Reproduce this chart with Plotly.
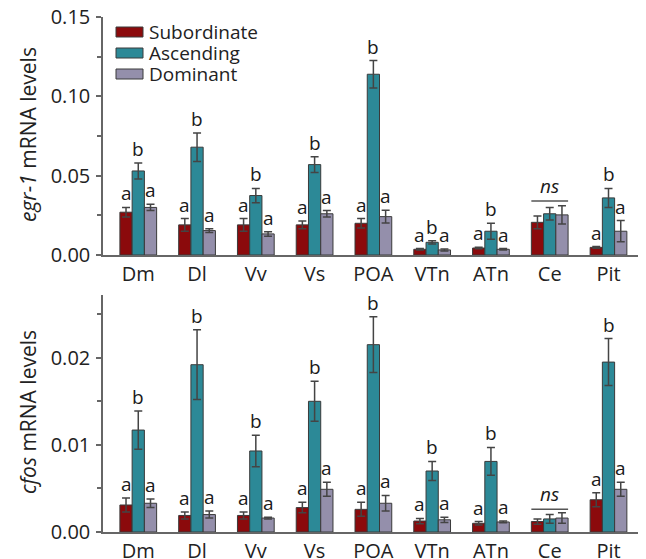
import plotly.graph_objects as go

# ---------------- data ----------------
categories = ["Dm", "Dl", "Vv", "Vs", "POA", "VTn", "ATn", "Ce", "Pit"]
groups = ["Subordinate", "Ascending", "Dominant"]

egr1_sub = [0.027, 0.019, 0.019, 0.019, 0.020, 0.0036, 0.0044, 0.0206, 0.0048]
egr1_sub_err = [0.003, 0.004, 0.004, 0.0025, 0.003, 0.0005, 0.0005, 0.004, 0.0005]
egr1_asc = [0.053, 0.068, 0.0375, 0.057, 0.114, 0.008, 0.015, 0.026, 0.036]
egr1_asc_err = [0.005, 0.009, 0.0045, 0.005, 0.0086, 0.001, 0.005, 0.004, 0.006]
egr1_dom = [0.030, 0.0154, 0.0133, 0.026, 0.0242, 0.0032, 0.0036, 0.0253, 0.015]
egr1_dom_err = [0.002, 0.0012, 0.0014, 0.002, 0.004, 0.0006, 0.0005, 0.0057, 0.0067]

cfos_sub = [0.0031, 0.0019, 0.0019, 0.0028, 0.0026, 0.00126, 0.0010, 0.0012, 0.0037]
cfos_sub_err = [0.0008, 0.0004, 0.0004, 0.0006, 0.0008, 0.0003, 0.0002, 0.0003, 0.0008]
cfos_asc = [0.0117, 0.0192, 0.0093, 0.0150, 0.0215, 0.0070, 0.0081, 0.0015, 0.0195]
cfos_asc_err = [0.0022, 0.0040, 0.0018, 0.0023, 0.0032, 0.0011, 0.0016, 0.0005, 0.0027]
cfos_dom = [0.0033, 0.0020, 0.0016, 0.0049, 0.0033, 0.0014, 0.00115, 0.0016, 0.0049]
cfos_dom_err = [0.0005, 0.0004, 0.0001, 0.0008, 0.0009, 0.0003, 0.0001, 0.0006, 0.0008]

egr1_letters = [["a", "b", "a"]] * 7 + [None] + [["a", "b", "a"]]
cfos_letters = [["a", "b", "a"]] * 7 + [None] + [["a", "b", "a"]]
ns_category = "Ce"
egr1_ns_level = 0.034
cfos_ns_level = 0.0026

egr1_ticks = [0.00, 0.05, 0.10, 0.15]
cfos_ticks = [0.00, 0.01, 0.02]

# ---------------- style ----------------
colors = ["#8b0a0c", "#2c8997", "#948fab"]
FONT = "Open Sans"
FS = 20
FS_LETTER = 19
FS_LEG = 19
FS_TITLE = 21
PAGE_W, PAGE_H = 646, 559
OFF = 8  # default body margin of the html page
W, H = PAGE_W - OFF, PAGE_H - OFF
# plot area in page pixels: x 103..642, y 17..532
L, R, T, B = 103 - OFF, PAGE_W - 642, 17 - OFF, PAGE_H - 532
PW, PH = W - L - R, H - T - B
BARGAP = 0.375

def px_x(p):  # page pixel -> paper
    return (p - OFF - L) / PW

def px_y(p):
    return (H - B - (p - OFF)) / PH

fig = go.Figure()

panels = [
    ("y", "x", [egr1_sub, egr1_asc, egr1_dom], [egr1_sub_err, egr1_asc_err, egr1_dom_err], egr1_letters, egr1_ns_level),
    ("y2", "x2", [cfos_sub, cfos_asc, cfos_dom], [cfos_sub_err, cfos_asc_err, cfos_dom_err], cfos_letters, cfos_ns_level),
]

annotations = []
shapes = []
group_w = 1 - BARGAP
for yref, xref, vals, errs, letters, ns_level in panels:
    for k in range(3):
        fig.add_trace(go.Bar(
            x=categories, y=vals[k], name=groups[k],
            xaxis=xref, yaxis=yref, showlegend=False,
            marker=dict(color=colors[k], line=dict(color="#3a3a3a", width=1)),
            error_y=dict(type="data", array=errs[k], symmetric=True,
                         color="#444444", thickness=1.5, width=4),
        ))
    for i, cat in enumerate(categories):
        if letters[i] is None:
            continue
        for k in range(3):
            xo = i + (k - 1) * group_w / 3
            annotations.append(dict(
                x=xo, y=vals[k][i] + errs[k][i], xref=xref, yref=yref,
                text=letters[i][k], showarrow=False, yanchor="bottom",
                xanchor="center", font=dict(family=FONT, size=FS_LETTER, color="#1a1a1a"),
                yshift=-1,
            ))
    ci = categories.index(ns_category)
    shapes.append(dict(type="line", xref=xref, yref=yref,
                       x0=ci - group_w / 2, x1=ci + group_w / 2,
                       y0=ns_level, y1=ns_level,
                       line=dict(color="#555555", width=1.5)))
    annotations.append(dict(x=ci, y=ns_level, xref=xref, yref=yref,
                            text="<i>ns</i>", showarrow=False, yanchor="bottom",
                            xanchor="center",
                            font=dict(family=FONT, size=FS_LETTER, color="#1a1a1a"),
                            yshift=0))

# y titles
annotations.append(dict(x=px_x(28), y=px_y(135), xref="paper", yref="paper",
                        xanchor="center", yanchor="middle",
                        text="<i>egr-1</i> mRNA levels", textangle=-90, showarrow=False,
                        font=dict(family=FONT, size=FS_TITLE, color="#222222")))
annotations.append(dict(x=px_x(28), y=px_y(412), xref="paper", yref="paper",
                        xanchor="center", yanchor="middle",
                        text="<i>cfos</i> mRNA levels", textangle=-90, showarrow=False,
                        font=dict(family=FONT, size=FS_TITLE, color="#222222")))

# legend (manual)
legend_rows = [32, 53, 74]
for k, name in enumerate(groups):
    cy = legend_rows[k]
    shapes.append(dict(type="rect", xref="paper", yref="paper",
                       x0=px_x(116), x1=px_x(143), y0=px_y(cy - 5), y1=px_y(cy + 5),
                       fillcolor=colors[k], line=dict(color="#3a3a3a", width=1)))
    annotations.append(dict(x=px_x(147), y=px_y(cy), xref="paper", yref="paper",
                            text=name, showarrow=False, xanchor="left", yanchor="middle",
                            font=dict(family=FONT, size=FS_LEG, color="#222222")))

top_dom = [px_y(255), 1.0]
bot_dom = [0.0, px_y(295)]

xcommon = dict(range=[-0.6, 8.57], showline=True, linecolor="#666666", linewidth=1.5,
               ticks="", showgrid=False, zeroline=False, type="category",
               tickfont=dict(family=FONT, size=FS, color="#222222"), automargin=False,
               ticklabeloverflow="allow")
ycommon = dict(showline=True, linecolor="#666666", linewidth=1.5, showgrid=False,
               zeroline=False, ticks="outside", ticklen=5, tickwidth=1.5, tickcolor="#666666",
               tickfont=dict(family=FONT, size=FS, color="#222222"), automargin=False,
               ticklabeloverflow="allow", ticklabelstandoff=2)

fig.update_layout(
    width=W, height=H,
    margin=dict(l=L, r=R, t=T, b=B, pad=0),
    paper_bgcolor="white", plot_bgcolor="white",
    barmode="group", bargap=BARGAP, bargroupgap=0,
    showlegend=False,
    xaxis=dict(**xcommon, anchor="y", domain=[0, 1]),
    xaxis2=dict(**xcommon, anchor="y2", domain=[0, 1]),
    yaxis=dict(**ycommon, domain=top_dom, range=[0, 0.1501], tickvals=egr1_ticks,
               ticktext=["%.2f" % v for v in egr1_ticks],
               minor=dict(dtick=0.025, ticks="outside", ticklen=4, tickwidth=1.5, tickcolor="#666666")),
    yaxis2=dict(**ycommon, domain=bot_dom, range=[0, 0.0272], tickvals=cfos_ticks,
                ticktext=["%.2f" % v for v in cfos_ticks],
                minor=dict(dtick=0.005, ticks="outside", ticklen=4, tickwidth=1.5, tickcolor="#666666")),
    annotations=annotations,
    shapes=shapes,
)

fig.write_html("out.html")
